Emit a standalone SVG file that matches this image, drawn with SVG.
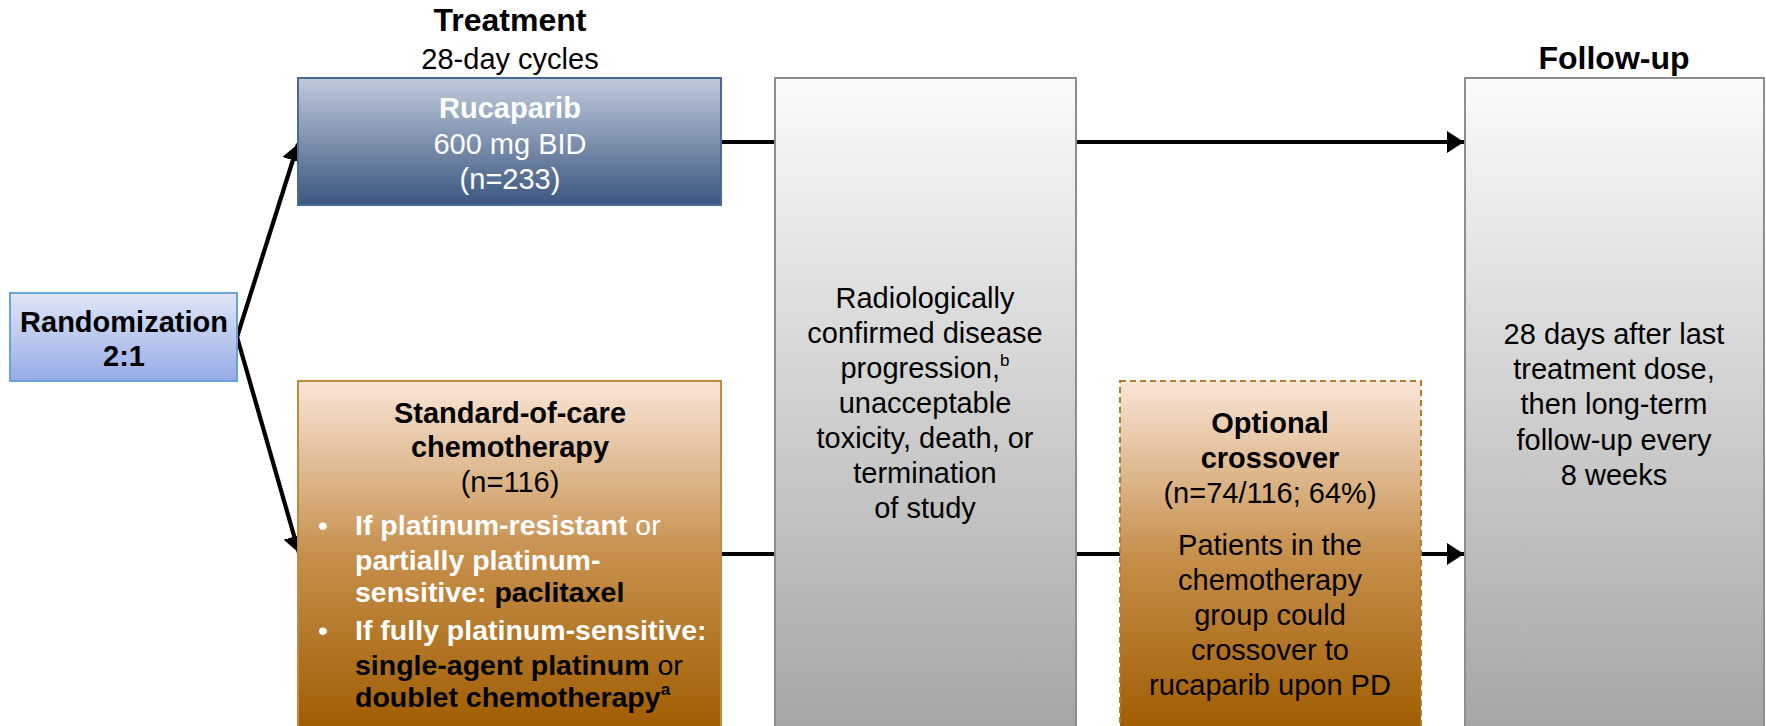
<svg xmlns="http://www.w3.org/2000/svg" width="1766" height="726" viewBox="0 0 1766 726">
  <style>
    text { font-family: "Liberation Sans", Arial, sans-serif; font-size: 29px; }
    .c { text-anchor: middle; }
    .b { font-weight: bold; }
    .w { fill: #ffffff; }
    .k { fill: #000000; }
    .h { font-size: 32px; }
    .li { font-size: 28.5px; }
    .conn { stroke: #000000; stroke-width: 4.2; fill: none; }
    .sup { font-size: 17px; }
  </style>
  <defs>
    <linearGradient id="gBlue" x1="0" y1="0" x2="0" y2="1">
      <stop offset="0" stop-color="#c0cbdc"/>
      <stop offset="1" stop-color="#3b5680"/>
    </linearGradient>
    <linearGradient id="gRand" x1="0" y1="0" x2="0" y2="1">
      <stop offset="0" stop-color="#e0e6f7"/>
      <stop offset="1" stop-color="#97abe6"/>
    </linearGradient>
    <linearGradient id="gBrown" x1="0" y1="0" x2="0" y2="1">
      <stop offset="0" stop-color="#f9e5d7"/>
      <stop offset="0.5" stop-color="#c68f4b"/>
      <stop offset="1" stop-color="#a05c00"/>
    </linearGradient>
    <linearGradient id="gGray" x1="0" y1="0" x2="0" y2="1">
      <stop offset="0" stop-color="#fbfbfb"/>
      <stop offset="1" stop-color="#a5a5a5"/>
    </linearGradient>
    <marker id="arrow" viewBox="0 0 17 22" refX="17" refY="11" markerWidth="17" markerHeight="22" markerUnits="userSpaceOnUse" orient="auto">
      <path d="M0,0 L17,11 L0,22 z" fill="#000000"/>
    </marker>
  </defs>

  <!-- column headings -->
  <g id="heading-treatment">
    <text class="c b h" x="510" y="31">Treatment</text>
    <text class="c" x="510" y="69">28-day cycles</text>
  </g>
  <g id="heading-followup">
    <text class="c b h" x="1614" y="69">Follow-up</text>
  </g>

  <!-- connectors -->
  <g id="connectors">
    <line class="conn" x1="237" y1="337" x2="298" y2="144" marker-end="url(#arrow)"/>
    <line class="conn" x1="237" y1="337" x2="299" y2="553" marker-end="url(#arrow)"/>
    <line class="conn" x1="721" y1="142" x2="775" y2="142"/>
    <line class="conn" x1="1076" y1="142" x2="1464" y2="142" marker-end="url(#arrow)"/>
    <line class="conn" x1="721" y1="554" x2="775" y2="554"/>
    <line class="conn" x1="1076" y1="554" x2="1120" y2="554"/>
    <line class="conn" x1="1421" y1="554" x2="1464" y2="554" marker-end="url(#arrow)"/>
  </g>

  <g id="randomization">
    <rect x="10" y="293" width="227" height="88" fill="url(#gRand)" stroke="#6aa3da" stroke-width="2"/>
    <text class="c b" x="124" y="332">Randomization</text>
    <text class="c b" x="124" y="366">2:1</text>
  </g>

  <g id="rucaparib">
    <rect x="298" y="78" width="423" height="127" fill="url(#gBlue)" stroke="#4b6b96" stroke-width="2"/>
    <text class="c b w" x="510" y="118">Rucaparib</text>
    <text class="c w" x="510" y="154">600 mg BID</text>
    <text class="c w" x="510" y="189">(n=233)</text>
  </g>

  <g id="chemotherapy">
    <rect x="298" y="381" width="423" height="350" fill="url(#gBrown)" stroke="#c48a3c" stroke-width="2"/>
    <text class="c b k" x="510" y="423">Standard-of-care</text>
    <text class="c b k" x="510" y="457">chemotherapy</text>
    <text class="c k" x="510" y="492">(n=116)</text>
    <text class="w li" x="318" y="535">•</text>
    <text class="li" x="355" y="535"><tspan class="b w">If platinum-resistant</tspan><tspan class="w"> or</tspan></text>
    <text class="b w li" x="355" y="570">partially platinum-</text>
    <text class="li" x="355" y="602"><tspan class="b w">sensitive: </tspan><tspan class="b k">paclitaxel</tspan></text>
    <text class="w li" x="318" y="640">•</text>
    <text class="b w li" x="355" y="640">If fully platinum-sensitive:</text>
    <text class="li" x="355" y="675"><tspan class="b k">single-agent platinum</tspan><tspan class="k"> or</tspan></text>
    <text class="li" x="355" y="707"><tspan class="b k">doublet chemotherapy</tspan><tspan class="b k sup" dy="-12">a</tspan></text>
  </g>

  <g id="discontinuation">
    <rect x="775" y="78" width="301" height="653" fill="url(#gGray)" stroke="#8e8e8e" stroke-width="2"/>
    <text class="c k" x="925" y="308">Radiologically</text>
    <text class="c k" x="925" y="343">confirmed disease</text>
    <text class="c k" x="925" y="378">progression,<tspan class="sup" dy="-12">b</tspan></text>
    <text class="c k" x="925" y="413">unacceptable</text>
    <text class="c k" x="925" y="448">toxicity, death, or</text>
    <text class="c k" x="925" y="483">termination</text>
    <text class="c k" x="925" y="518">of study</text>
  </g>

  <g id="crossover">
    <rect x="1120" y="381" width="301" height="350" fill="url(#gBrown)" stroke="#b47a30" stroke-width="2" stroke-dasharray="6,4"/>
    <text class="c b k" x="1270" y="433">Optional</text>
    <text class="c b k" x="1270" y="468">crossover</text>
    <text class="c k" x="1270" y="503">(n=74/116; 64%)</text>
    <text class="c k" x="1270" y="555">Patients in the</text>
    <text class="c k" x="1270" y="590">chemotherapy</text>
    <text class="c k" x="1270" y="625">group could</text>
    <text class="c k" x="1270" y="660">crossover to</text>
    <text class="c k" x="1270" y="695">rucaparib upon PD</text>
  </g>

  <g id="followup">
    <rect x="1465" y="78" width="299" height="653" fill="url(#gGray)" stroke="#8e8e8e" stroke-width="2"/>
    <text class="c k" x="1614" y="344">28 days after last</text>
    <text class="c k" x="1614" y="379">treatment dose,</text>
    <text class="c k" x="1614" y="414">then long-term</text>
    <text class="c k" x="1614" y="450">follow-up every</text>
    <text class="c k" x="1614" y="485">8 weeks</text>
  </g>
</svg>
